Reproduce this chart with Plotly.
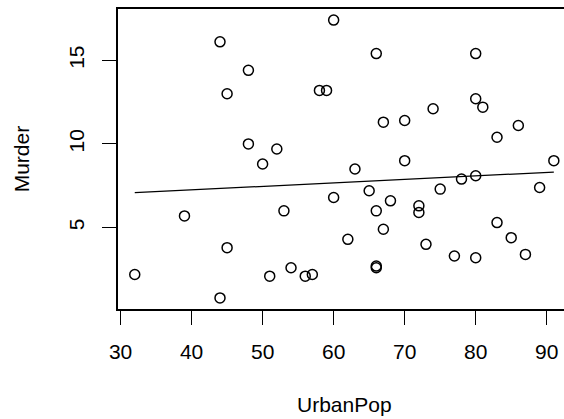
import numpy as np
import plotly.graph_objects as go

urban_pop = [58, 48, 80, 50, 91, 78, 77, 72, 80, 60, 83, 54, 83, 65, 57, 66, 52, 66, 51, 67,
             85, 74, 66, 44, 70, 53, 62, 81, 56, 89, 70, 86, 45, 44, 75, 68, 67, 72, 87, 48,
             45, 59, 80, 80, 32, 63, 73, 39, 66, 60]
murder = [13.2, 10.0, 8.1, 8.8, 9.0, 7.9, 3.3, 5.9, 15.4, 17.4, 5.3, 2.6, 10.4, 7.2, 2.2, 6.0,
          9.7, 15.4, 2.1, 11.3, 4.4, 12.1, 2.7, 16.1, 9.0, 6.0, 4.3, 12.2, 2.1, 7.4, 11.4, 11.1,
          13.0, 0.8, 7.3, 6.6, 4.9, 6.3, 3.4, 14.4, 3.8, 13.2, 12.7, 3.2, 2.2, 8.5, 4.0, 5.7, 2.6, 6.8]
x_ticks = [30, 40, 50, 60, 70, 80, 90]
y_ticks = [5, 10, 15]

slope, intercept = np.polyfit(urban_pop, murder, 1)
xl = np.array([min(urban_pop), max(urban_pop)])
yl = intercept + slope * xl

FONT = "Liberation Sans, Arial, sans-serif"
fig = go.Figure()
fig.add_trace(go.Scatter(x=urban_pop, y=murder, mode="markers",
                         marker=dict(symbol="circle-open", size=10, color="black",
                                     line=dict(width=1.5, color="black")),
                         showlegend=False, hoverinfo="skip"))
fig.add_trace(go.Scatter(x=xl, y=yl, mode="lines", line=dict(color="black", width=1.3),
                         showlegend=False, hoverinfo="skip"))

fig.update_layout(
    width=564, height=419,
    margin=dict(l=117.7, r=0, t=8.7, b=110.3),
    plot_bgcolor="white", paper_bgcolor="white",
    font=dict(family=FONT, size=21, color="black"),
    xaxis=dict(range=[29.64, 92.43], tickvals=x_ticks, ticktext=[str(v) for v in x_ticks],
               showgrid=False, zeroline=False, showline=True, mirror=True,
               linecolor="black", linewidth=1.5, ticks="outside", ticklen=14,
               tickwidth=1.3, tickcolor="black", ticklabelstandoff=9),
    yaxis=dict(range=[0.136, 18.064], tickvals=y_ticks, ticktext=[str(v) for v in y_ticks],
               showgrid=False, zeroline=False, showline=True, mirror=False,
               linecolor="black", linewidth=1.5, ticks="outside", ticklen=14,
               tickwidth=1.3, tickcolor="black", tickangle=-90, ticklabelstandoff=10),
    annotations=[
        dict(text="UrbanPop", x=61.5, xref="x", y=-0.318, yref="paper", showarrow=False,
             xanchor="center", yanchor="middle", font=dict(size=21)),
        dict(text="Murder", x=(21 - 117.7) / 446.3, xref="paper", xanchor="center",
             y=9.1, yref="y", yanchor="middle", showarrow=False, textangle=-90,
             font=dict(size=21)),
    ],
)
fig.write_html("out.html", config={"displayModeBar": False},
               post_script="document.body.style.margin='0';document.body.style.overflow='hidden';")
